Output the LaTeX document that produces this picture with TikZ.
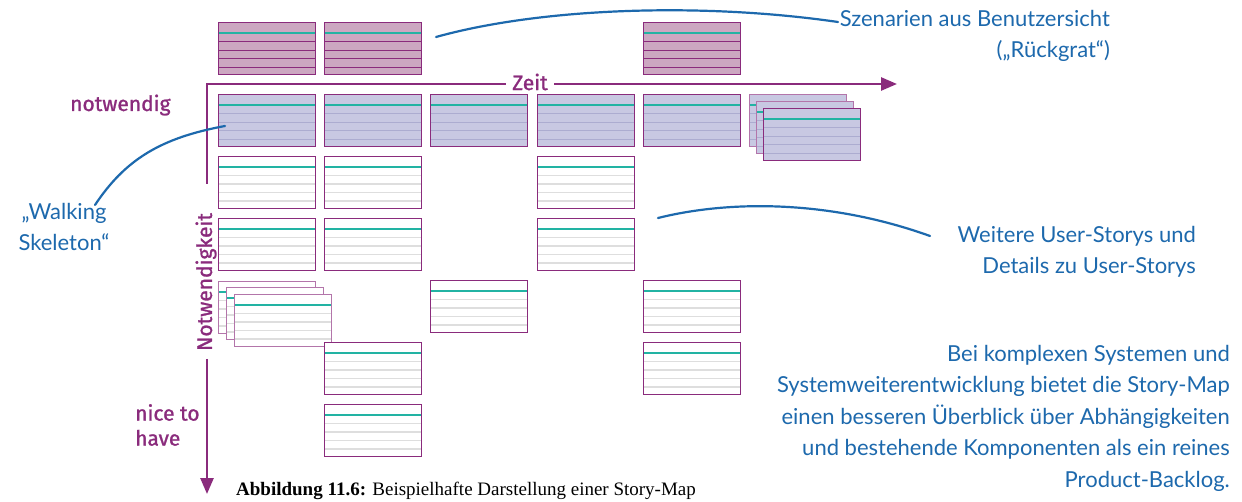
\documentclass[tikz,border=0pt]{standalone}
\usepackage{fontspec}
\setmainfont{Liberation Serif}
\newfontfamily\labelfont[FakeBold=1.2]{Fira Sans}
\newfontfamily\handfont{Lato}
\usetikzlibrary{arrows.meta}
\definecolor{cpurple}{HTML}{8A2B7C}
\definecolor{cpink}{HTML}{CCA7C1}
\definecolor{clav}{HTML}{C8C8E2}
\definecolor{clavline}{HTML}{ACACD0}
\definecolor{clgrey}{HTML}{DEDEDE}
\definecolor{cteal}{HTML}{22B3A3}
\definecolor{cblue}{HTML}{1D69AD}
\tikzset{
  card/.style n args={3}{draw=cpurple, line width=1.4pt, fill=#1,
    minimum width=97pt, minimum height=52pt, inner sep=0pt, anchor=north west,
    path picture={
      \draw[cteal, line width=1.6pt]
        ([yshift=-10.5pt]path picture bounding box.north west) --
        ([yshift=-10.5pt]path picture bounding box.north east);
      \foreach \d in {19,27.5,36,44.5}{
        \draw[#2, line width=#3]
          ([yshift=-\d pt]path picture bounding box.north west) --
          ([yshift=-\d pt]path picture bounding box.north east);}
    }},
  pcard/.style={card={cpink}{cpurple}{1.1pt}},
  lcard/.style={card={clav}{clavline}{1.1pt}},
  wcard/.style={card={white}{clgrey}{1.5pt}},
  backcard/.style={draw=cpurple!65},
  axis/.style={draw=cpurple, line width=2.6pt},
  axtip/.style={-{Triangle[length=16pt,width=13pt]}},
  axlabel/.style={text=cpurple, font=\labelfont\fontsize{21}{25}\selectfont, inner sep=0pt},
  hand/.style={text=cblue, font=\handfont\fontsize{22}{31.5}\selectfont, inner sep=0pt},
  brush/.style={draw=cblue, line width=2.2pt, line cap=round},
}
\begin{document}
\begin{tikzpicture}[x=1pt,y=-1pt]
\useasboundingbox[fill=white] (0,0) rectangle (1242,502);

% backbone cards
\node[pcard] (s1) at (218,22) {};
\node[pcard] (s2) at (324,22) {};
\node[pcard] (s5) at (643,22) {};

% row 1 (walking skeleton)
\node[lcard] (r1c1) at (218,94) {};
\node[lcard] (r1c2) at (324,94) {};
\node[lcard] (r1c3) at (430,94) {};
\node[lcard] (r1c4) at (537,94) {};
\node[lcard] (r1c5) at (643,94) {};
\node[lcard, backcard] (r1c6a) at (749,94) {};
\node[lcard, backcard] (r1c6b) at (756,101) {};
\node[lcard] (r1c6c) at (763,108) {};

% row 2
\node[wcard] (r2c1) at (218,156) {};
\node[wcard] (r2c2) at (324,156) {};
\node[wcard] (r2c4) at (537,156) {};
% row 3
\node[wcard] (r3c1) at (218,218) {};
\node[wcard] (r3c2) at (324,218) {};
\node[wcard] (r3c4) at (537,218) {};
% row 4
\node[wcard, backcard] (r4c1a) at (218,281) {};
\node[wcard, backcard] (r4c1b) at (226,287) {};
\node[wcard, backcard] (r4c1c) at (234,294) {};
\node[wcard] (r4c3) at (430,280) {};
\node[wcard] (r4c5) at (643,280) {};
% row 5
\node[wcard] (r5c2) at (324,342) {};
\node[wcard] (r5c5) at (643,342) {};
% row 6
\node[wcard] (r6c2) at (324,404) {};

% axes
\coordinate (vtop) at (207,184);
\coordinate (orig) at (207,84);
\coordinate (htip) at (897,84);
\draw[axis, axtip] (vtop) -- (orig) -- (htip);
\node[axlabel, fill=white, inner xsep=6pt, inner ysep=2pt] (zeit) at (530,82) {Zeit};
\node[axlabel, rotate=90] (notw) at (206,282) {Notwendigkeit};
\coordinate (vstart) at (207,359);
\coordinate (vtip) at (207,494);
\draw[axis, axtip] (vstart) -- (vtip);
\node[axlabel, anchor=base west] (notwendig) at (70,111) {notwendig};
\node[axlabel, anchor=north west, align=left] (nice) at (135,404) {nice to\\have};

% annotations
\node[hand, anchor=north east, align=right] (szen) at (1110,10)
  {Szenarien aus Benutzersicht\\(„Rückgrat“)};
\node[hand, anchor=north east, align=right] (weit) at (1196,226)
  {Weitere User-Storys und\\Details zu User-Storys};
\node[hand, anchor=north east, align=right] (komplex) at (1230,345)
  {Bei komplexen Systemen und\\Systemweiterentwicklung bietet die Story-Map\\einen besseren Überblick über Abhängigkeiten\\und bestehende Komponenten als ein reines\\Product-Backlog.};
\node[hand, anchor=north, align=center] (walk) at (64,203)
  {„Walking\\Skeleton“};

% brush strokes
\coordinate (b1s) at (436,37);
\coordinate (b1e) at (838,22);
\draw[brush] (b1s) .. controls (540,8) and (700,2) .. (b1e);
\coordinate (b2s) at (95,205);
\coordinate (b2e) at (225,126);
\draw[brush] (b2s) .. controls (125,160) and (160,138) .. (b2e);
\coordinate (b3s) at (658,218);
\coordinate (b3e) at (930,236);
\draw[brush] (b3s) .. controls (730,200) and (830,200) .. (b3e);

% caption
\node[anchor=north west, inner sep=0pt, font=\fontsize{19}{23}\selectfont] (cap) at (236,482)
  {\textbf{Abbildung 11.6:} Beispielhafte Darstellung einer Story-Map};
\end{tikzpicture}
\end{document}
